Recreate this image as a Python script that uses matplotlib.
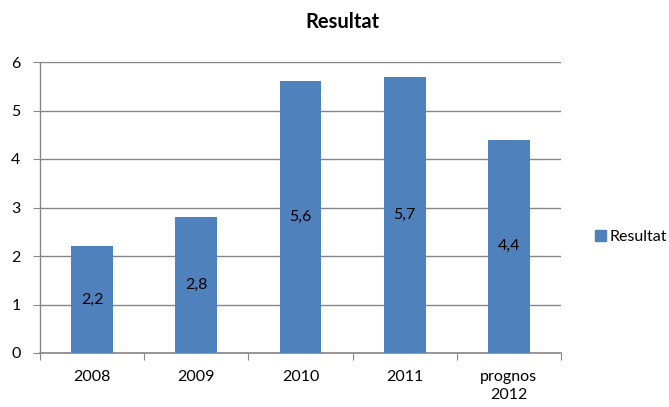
import matplotlib
matplotlib.use("Agg")
import matplotlib.pyplot as plt
from matplotlib.patches import Patch

categories = ["2008", "2009", "2010", "2011", "prognos\n2012"]
values = [2.2, 2.8, 5.6, 5.7, 4.4]
value_labels = ["2,2", "2,8", "5,6", "5,7", "4,4"]
yticks = [0, 1, 2, 3, 4, 5, 6]

plt.rcParams["font.family"] = ["Lato", "DejaVu Sans"]
bar_color = "#4F81BD"
grid_color = "#868686"
fs = 11.5

fig = plt.figure(figsize=(6.69, 4.07), dpi=100)
ax = fig.add_axes([40 / 669, 1 - 353 / 407, (561 - 40) / 669, (353 - 62) / 407])

x = range(len(categories))
ax.bar(x, values, width=0.4, color=bar_color, zorder=3)
for xi, v, lab in zip(x, values, value_labels):
    ax.text(xi, v / 2, lab, ha="center", va="center", fontsize=fs, color="black", zorder=4)

ax.set_xlim(-0.5, len(categories) - 0.5)
ax.set_ylim(0, 6)
ax.set_yticks(yticks)
ax.set_yticklabels([str(t) for t in yticks], fontsize=fs)
ax.yaxis.grid(True, color=grid_color, linewidth=1)
ax.set_axisbelow(True)

# category labels between tick marks, like Excel
ax.set_xticks([i - 0.5 for i in range(len(categories) + 1)])
ax.set_xticklabels([])
ax.set_xticks(list(x), minor=True)
ax.set_xticklabels(categories, minor=True, fontsize=fs, linespacing=1.4)
ax.tick_params(axis="x", which="minor", length=0, pad=12)
ax.tick_params(axis="x", which="major", length=5, color=grid_color, direction="out")
ax.tick_params(axis="y", length=5, color=grid_color, pad=9)

for s in ["top", "right"]:
    ax.spines[s].set_visible(False)
ax.spines["left"].set_color(grid_color)
ax.spines["bottom"].set_color(grid_color)
ax.spines["left"].set_linewidth(1)
ax.spines["bottom"].set_linewidth(1.2)

fig.text(342 / 669, 1 - 22 / 407, "Resultat", ha="center", va="center",
         fontsize=14.5, fontweight="bold")

fig.legend(handles=[Patch(color=bar_color, label="Resultat")],
           loc="center left", bbox_to_anchor=(595 / 669, 1 - 237 / 407),
           frameon=False, fontsize=fs, handlelength=0.7, handleheight=0.7,
           handletextpad=0.2, borderaxespad=0, borderpad=0)

fig.savefig("out.png", dpi=100)
